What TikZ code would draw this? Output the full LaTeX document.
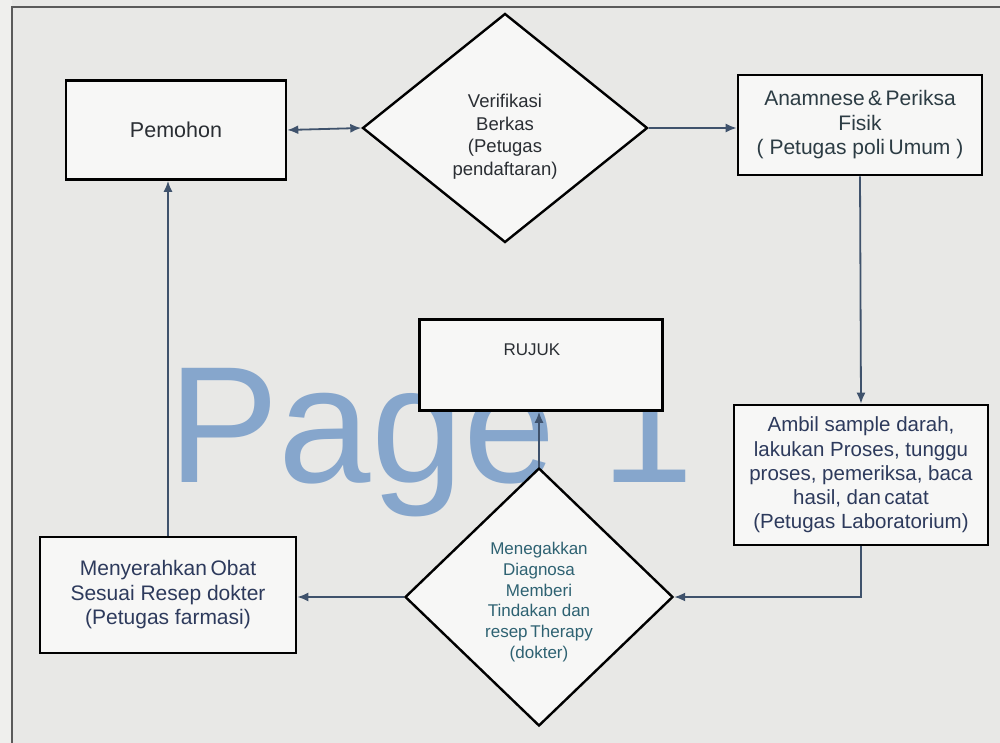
\documentclass[tikz,border=0pt]{standalone}
\usepackage{fontspec}
\setmainfont{Liberation Sans}
\usetikzlibrary{shapes.geometric,arrows.meta}
\definecolor{bg}{HTML}{E8E8E6}
\definecolor{frame}{HTML}{5A5A5A}
\definecolor{conn}{HTML}{3F526C}
\definecolor{wm}{HTML}{86A6CC}
\definecolor{txtA}{HTML}{2A2E33}
\definecolor{txtB}{HTML}{2C3C44}
\definecolor{txtC}{HTML}{2D3A5C}
\definecolor{txtD}{HTML}{2E6272}
\tikzset{
  x=1pt,y=-1pt,
  boxnode/.style={draw=black,line width=2.6pt,fill=bg!35!white,align=center,inner sep=0pt},
  dianode/.style={diamond,draw=black,line width=2.4pt,fill=bg!35!white,align=center,inner sep=0pt,aspect=1},
  arr/.style={draw=conn,line width=1.8pt,-{Latex[length=11pt,width=9pt]}},
  darr/.style={draw=conn,line width=1.8pt,{Latex[length=11pt,width=9pt]}-{Latex[length=11pt,width=9pt]}},
}
\begin{document}
\begin{tikzpicture}
\useasboundingbox (0,0) rectangle (1000,743);
\fill[bg] (0,0) rectangle (1000,743);
\fill[bg!70!white] (0,0) rectangle (12,743);
\draw[frame,line width=1.6pt] (12,743) -- (12,7) -- (1000,7);
% watermark
\node[anchor=base west,inner sep=0pt,text=wm,font=\fontsize{166}{166}\selectfont] (wmark) at (168,482) {Page 1};
% boxes
\node[boxnode,minimum width=220pt,minimum height=99pt,text=txtA,font=\fontsize{21.5}{24}\selectfont] (pem) at (176,130) {Pemohon};
\node[dianode,minimum width=285pt,minimum height=229pt,text=txtA,font=\fontsize{18.5}{22.5}\selectfont] (ver) at (505,128) {\rule{0pt}{31pt}Verifikasi\\Berkas\\(Petugas\\pendaftaran)};
\node[boxnode,minimum width=244pt,minimum height=100pt,text=txtB,font=\fontsize{21}{24.5}\selectfont] (ana) at (860,125) {Anamnese\,\&\,Periksa\\Fisik\\( Petugas poli\,Umum )};
\node[boxnode,minimum width=254pt,minimum height=140pt,text=txtC,font=\fontsize{20.5}{24.3}\selectfont] (lab) at (861,475) {Ambil sample darah,\\lakukan Proses, tunggu\\proses, pemeriksa, baca\\hasil, dan\,catat\\(Petugas Laboratorium)};
\node[dianode,minimum width=268pt,minimum height=258pt,text=txtD,font=\fontsize{17}{20.8}\selectfont] (dia) at (539,597) {\rule{0pt}{22.5pt}Menegakkan\\Diagnosa\\Memberi\\Tindakan dan\\resep\,Therapy\\(dokter)};
\node[boxnode,minimum width=256pt,minimum height=116pt,text=txtC,font=\fontsize{21}{24.5}\selectfont] (obat) at (168,595) {Menyerahkan\,Obat\\Sesuai Resep dokter\\(Petugas farmasi)};
\node[boxnode,minimum width=243pt,minimum height=91pt,text=txtA,font=\fontsize{17}{30}\selectfont] (rujuk) at (541,365) {RUJUK\hspace*{18pt}\\\mbox{}};
% connectors
\draw[darr] (pem.east) -- (ver.west);
\draw[arr] (ver.east) -- (ana.west |- ver.east);
\draw[arr] (ana.south) -- (lab.north);
\draw[arr] (lab.south) |- (dia.east);
\draw[arr] (dia.west) -- (obat.east |- dia.west);
\draw[arr] (dia.north) -- (rujuk.south -| dia.north);
\draw[arr] (obat.north) -- (pem.south -| obat.north);
\end{tikzpicture}
\end{document}
